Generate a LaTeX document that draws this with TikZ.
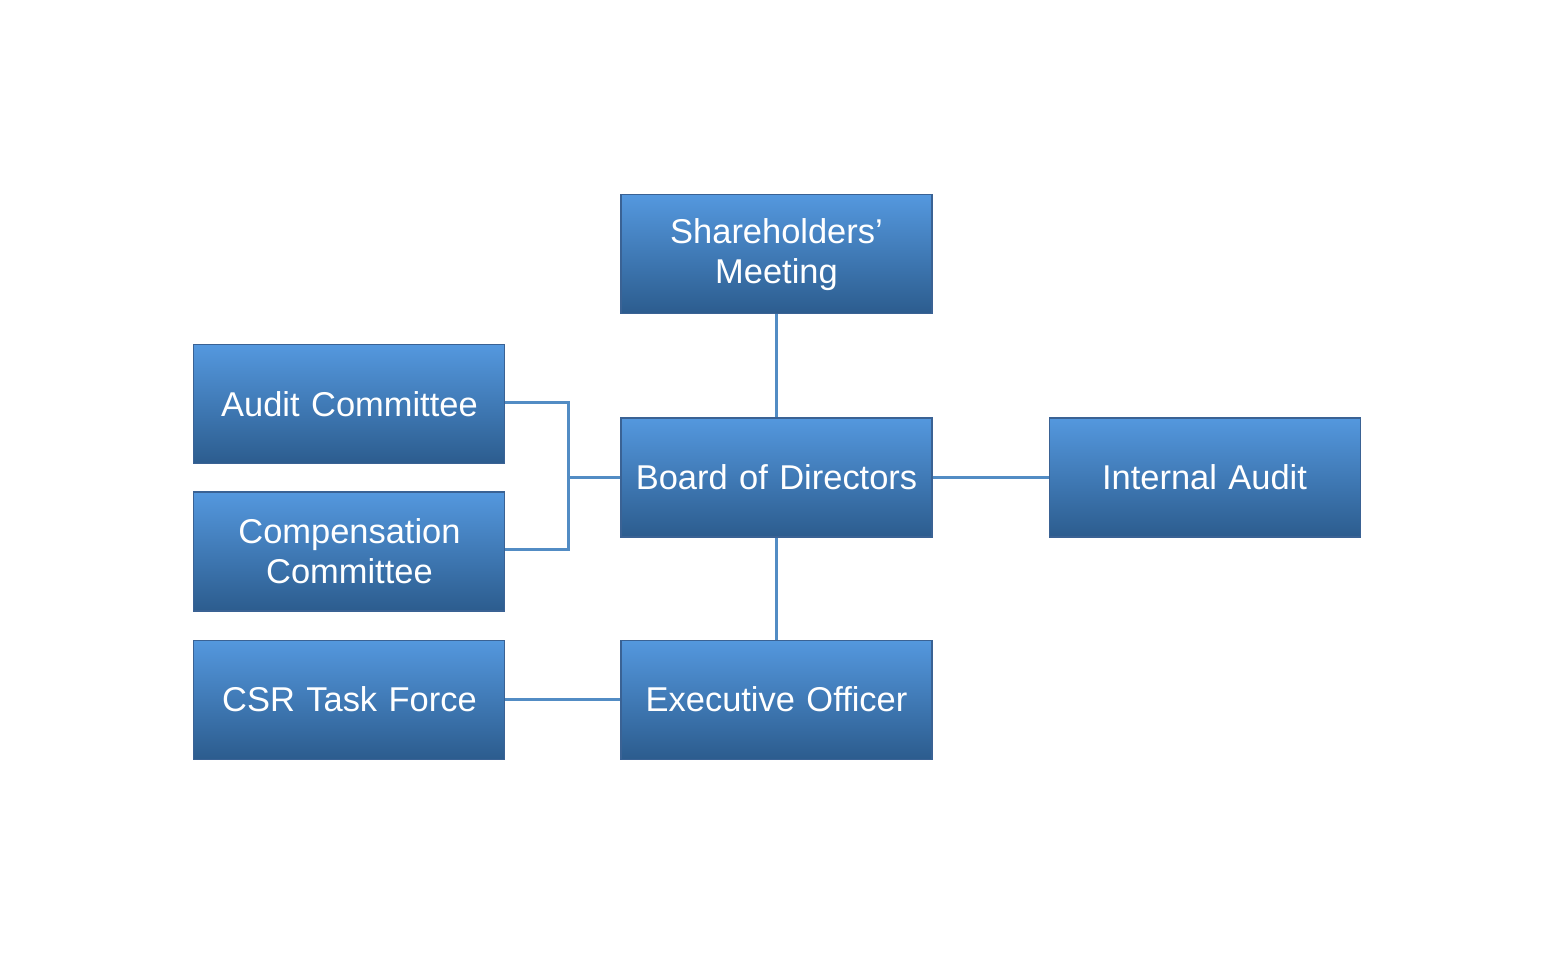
\documentclass[tikz,border=0pt]{standalone}
\usepackage{fontspec}
\setmainfont{Liberation Sans}
\usepackage{tikz}
\usetikzlibrary{positioning, calc}
\usepackage{xcolor}
\definecolor{boxtop}{RGB}{84,152,222}
\definecolor{boxbottom}{RGB}{44,92,142}
\definecolor{boxedge}{RGB}{58,98,148}
\definecolor{linkblue}{RGB}{82,140,196}
\tikzstyle{unit} = [rectangle, draw=boxedge, line width=0.3pt, top color=boxtop, bottom color=boxbottom, minimum width=3.11cm, minimum height=1.19cm, text width=2.95cm, align=center, inner sep=0pt, text=white, font=\fontsize{9.8}{11.4}\selectfont]
\tikzstyle{link} = [draw=linkblue, line width=0.85pt]

\begin{document}
\begin{tikzpicture}[node distance=1.03cm and 1.16cm]
  \useasboundingbox (0,0) rectangle (15.67,9.73);
  \node[unit] (board) at (7.765,4.955) {Board of Directors};
  \node[unit, above=1.03cm of board] (share) {Shareholders’\\Meeting};
  \node[unit, right=1.16cm of board] (internal) {Internal Audit};
  \node[unit, below=1.02cm of board] (exec) {Executive Officer};
  \node[unit, left=1.15cm of exec] (csr) {CSR Task Force};
  \node[unit, above=0.28cm of csr] (comp) {Compensation\\Committee};
  \node[unit, above=0.27cm of comp] (audit) {Audit Committee};

  \coordinate (bus) at ($(board.west)+(-0.52,0)$);

  \draw[link] (share) -- (board);
  \draw[link] (board) -- (internal);
  \draw[link] (board) -- (exec);
  \draw[link] (csr) -- (exec);
  \draw[link] (audit.east |- 0,5.70) -| (bus) -- (board.west);
  \draw[link] (comp.east |- 0,4.23) -| (bus);
\end{tikzpicture}
\end{document}
